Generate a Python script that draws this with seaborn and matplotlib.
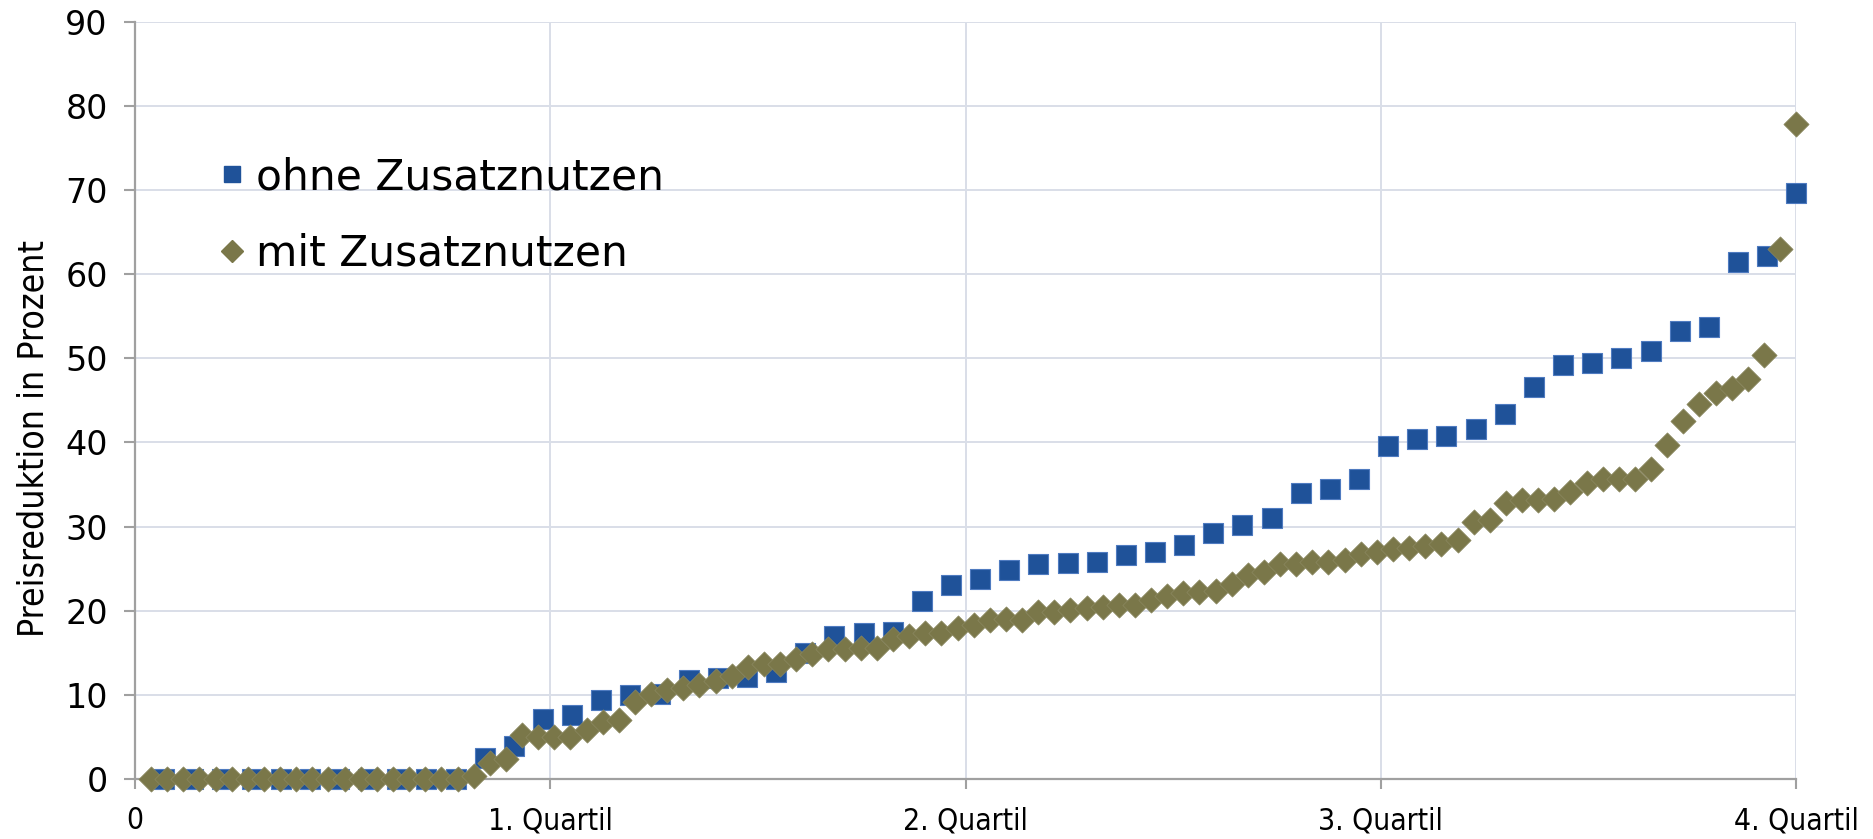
import matplotlib
matplotlib.use("Agg")
import matplotlib.pyplot as plt
import numpy as np
import pandas as pd
import seaborn as sns
from matplotlib.lines import Line2D

# sorted price reductions (%)
ohne_werte = [0, 0, 0, 0, 0, 0, 0, 0, 0, 0, 0,
              2.5, 3.9, 7.1, 7.6, 9.4, 10.0, 10.1, 11.8, 12.0, 12.1, 12.7,
              15.0, 17.0, 17.4, 17.5, 21.1, 23.1, 23.8, 24.9, 25.6, 25.7,
              25.8, 26.6, 27.0, 27.8, 29.3, 30.2, 31.0, 34.0, 34.5, 35.7,
              39.6, 40.4, 40.8, 41.6, 43.4, 46.6, 49.2, 49.5, 50.1, 50.9,
              53.3, 53.7, 61.5, 62.2, 69.7]

mit_werte = [0, 0, 0, 0, 0, 0, 0, 0, 0, 0, 0, 0, 0, 0, 0, 0, 0, 0, 0, 0,
             0.3, 1.9, 2.4, 5.2, 5.0, 5.0, 5.0, 5.8, 6.8, 7.0, 9.1, 10.1,
             10.6, 10.8, 11.2, 11.6, 12.2, 13.3, 13.7, 13.7, 14.3, 14.9,
             15.4, 15.4, 15.6, 15.6, 16.7, 17.0, 17.3, 17.3, 17.9, 18.3,
             18.9, 19.0, 18.9, 19.8, 19.8, 20.1, 20.3, 20.4, 20.7, 20.7,
             21.3, 21.7, 22.1, 22.2, 22.3, 23.2, 24.3, 24.6, 25.6, 25.5,
             25.8, 25.8, 26.0, 26.7, 27.0, 27.3, 27.4, 27.7, 27.9, 28.4,
             30.6, 30.8, 32.8, 33.2, 33.2, 33.3, 34.1, 35.2, 35.6, 35.7,
             35.7, 36.8, 39.7, 42.6, 44.6, 45.9, 46.5, 47.5, 50.4, 63.0,
             77.8]

serien = ["ohne Zusatznutzen", "mit Zusatznutzen"]
x_ticklabels = ["0", "1. Quartil", "2. Quartil", "3. Quartil", "4. Quartil"]

blau = "#1F5299"
oliv = "#7A7749"

# position on the quartile axis: rank / n * 4
df_ohne = pd.DataFrame({"x": 4 * np.arange(1, len(ohne_werte) + 1) / len(ohne_werte),
                        "y": ohne_werte})
df_mit = pd.DataFrame({"x": 4 * np.arange(1, len(mit_werte) + 1) / len(mit_werte),
                       "y": mit_werte})

sns.set_theme(style="white")
plt.rcParams["font.family"] = ["DejaVu Sans"]
plt.rcParams["text.color"] = "black"

fig, ax = plt.subplots(figsize=(18.74, 8.39), dpi=100)
fig.subplots_adjust(left=0.072, right=0.9585, bottom=0.0715, top=0.974)

sns.scatterplot(data=df_ohne, x="x", y="y", marker="s", s=200, color=blau,
                edgecolor="#4F7BC0", linewidth=0.8, ax=ax, zorder=3, clip_on=False)
sns.scatterplot(data=df_mit, x="x", y="y", marker="D", s=165, color=oliv,
                edgecolor="#8A8760", linewidth=0.5, ax=ax, zorder=4, clip_on=False)

ax.set_xlim(0, 4)
ax.set_ylim(0, 90)
ax.set_xticks(range(5))
ax.set_xticklabels(x_ticklabels, fontstretch="condensed")
ax.set_yticks(range(0, 91, 10))
ax.grid(True, color="#D9DEE8", linewidth=1.4)
ax.set_axisbelow(True)

for side in ["top", "right"]:
    ax.spines[side].set_visible(False)
for side in ["left", "bottom"]:
    ax.spines[side].set_color("#A0A0A0")
    ax.spines[side].set_linewidth(1.6)

ax.tick_params(axis="y", which="major", direction="out", length=8, width=1.5,
               color="#A0A0A0", labelcolor="black", labelsize=24, pad=11.5, left=True)
ax.tick_params(axis="x", which="major", direction="out", length=7.5, width=1.5,
               color="#A0A0A0", labelcolor="black", labelsize=21.5, pad=12, bottom=True)

ax.set_xlabel("")
ax.set_ylabel("Preisreduktion in Prozent", fontsize=25.5, color="black",
              fontstretch="condensed")
ax.yaxis.set_label_coords(-0.051, 0.45)

handles = [
    Line2D([], [], linestyle="none", marker="s", markersize=12, color=blau),
    Line2D([], [], linestyle="none", marker="D", markersize=11, color=oliv),
]
ax.legend(handles, serien, loc="upper left", bbox_to_anchor=(0.037, 0.845),
          frameon=False, fontsize=30.5, handletextpad=0.1, handlelength=0.9,
          labelspacing=0.82, borderaxespad=0)

fig.savefig("out.png", dpi=100, facecolor="white")
